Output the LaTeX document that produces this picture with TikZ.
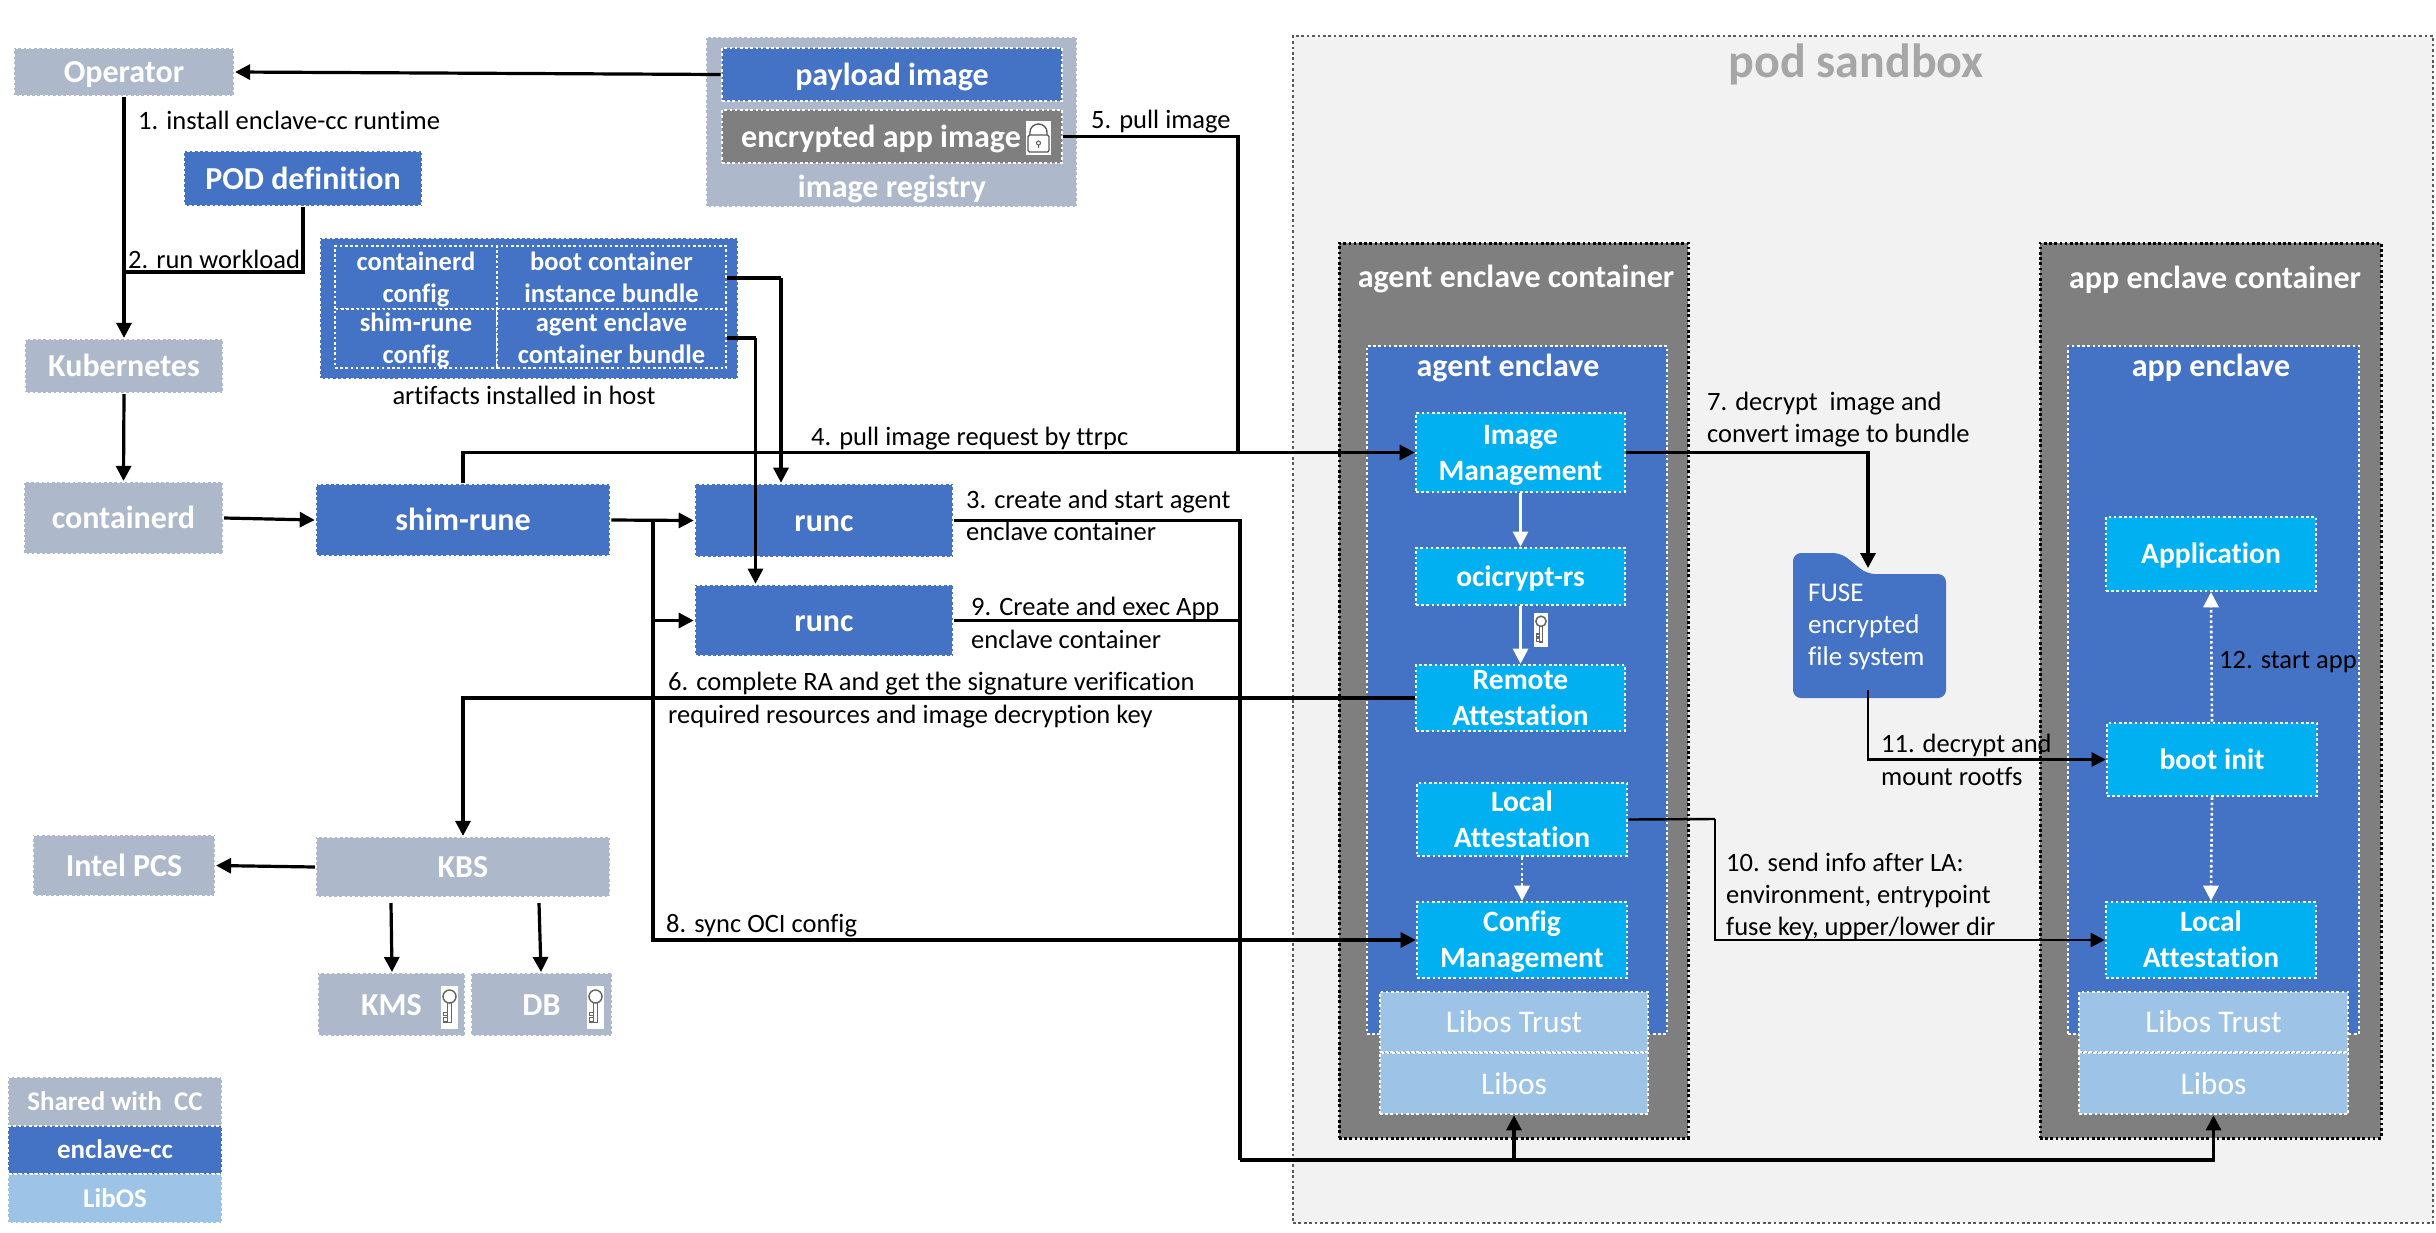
\documentclass[tikz,border=0pt]{standalone}
\usepackage{fontspec}
\setmainfont[RawFeature={-liga;-clig}]{Carlito}
\usetikzlibrary{arrows.meta}
\definecolor{shared}{HTML}{ADB9CA}
\definecolor{encl}{HTML}{4472C4}
\definecolor{grayc}{HTML}{7F7F7F}
\definecolor{cyanc}{HTML}{00B0F0}
\definecolor{libos}{HTML}{9DC3E6}
\definecolor{sandbox}{HTML}{F2F2F2}
\tikzset{
  wdot/.style={draw=white,line width=2.6pt,dash pattern=on 2.6pt off 2.6pt},
  basebox/.style={inner sep=0pt,text=white,align=center,font=\fontsize{32}{40}\selectfont\bfseries},
  sharedbox/.style={basebox,fill=shared,draw=white,line width=2.2pt,dash pattern=on 2.6pt off 2.6pt},
  enclbox/.style={basebox,fill=encl,wdot},
  cyanbox/.style={basebox,fill=cyanc,wdot,font=\fontsize{29.5}{36}\selectfont\bfseries},
  libosbox/.style={basebox,fill=libos,wdot,font=\fontsize{31.5}{40}\selectfont},
  graybox/.style={basebox,fill=grayc,wdot},
  conbox/.style={basebox,fill=grayc,draw=black,line width=3pt,dash pattern=on 2.6pt off 2.6pt},
  titletext/.style={inner sep=0pt,text=white,yshift=-2pt,font=\fontsize{32}{40}\selectfont\bfseries},
  conn/.style={draw=black,line width=3.2pt,-{Triangle[length=15pt,width=15pt]}},
  plain/.style={draw=black,line width=3.2pt},
  thinconn/.style={draw=black,line width=2.4pt,-{Triangle[length=14pt,width=14pt]}},
  thinplain/.style={draw=black,line width=2.4pt},
  whconn/.style={draw=white,line width=2.6pt,-{Triangle[length=15pt,width=15pt]}},
  whdot/.style={draw=white,line width=2.6pt,dash pattern=on 2.6pt off 2.6pt},
  lab/.style={anchor=west,inner sep=0pt,text=black,text height=18pt,text depth=2pt,font=\fontsize{26.5}{26}\selectfont},
}
% box from corner coordinates: name, x0, y0, x1, y1, style, text (the text sits in its own node so the box keeps its size)
\newcommand\bx[7]{%
  \node[#6,minimum width={(#4-#2)*1pt},minimum height={(#5-#3)*1pt}] (#1) at ({(#2+#4)/2},{(#3+#5)/2}) {};
  \node[#6,draw=none,fill=none,yshift=-2.5pt] (#1-text) at (#1.center) {\strut #7\strut};}
% key pictogram: centre x, centre y, white tile half width, half height
\newcommand\keyicon[4]{%
  \fill[white] (#1-#3,#2-#4) rectangle (#1+#3,#2+#4);
  \begin{scope}[shift={(#1,#2)},yscale=#4/21.5,xscale=#4/21.5]
    \draw[gray!80!black,line width=1.5pt] (0,-11) circle (6.5);
    \draw[gray!80!black,line width=1.5pt] (-1.8,-4.5) -- (-1.8,15) -- (1.8,15) -- (1.8,-4.5);
    \draw[gray!80!black,line width=1.5pt] (-1.8,5) -- (-6,5) -- (-6,8) -- (-2,8) (-1.8,10) -- (-6,10) -- (-6,14.5) -- (-1.8,14.5);
  \end{scope}}
\begin{document}
\begin{tikzpicture}[x=1pt,y=-1pt]
\useasboundingbox (0,0) rectangle (2436,1232);
% pod sandbox
\bx{sandboxbox}{1293}{36}{2433}{1223}{inner sep=0pt,fill=sandbox,draw=black!65,line width=2.2pt,dash pattern=on 2.7pt off 2.7pt}{}
\node[inner sep=0pt,text=black!35,font=\fontsize{48}{48}\selectfont\bfseries] (podtitle) at (1856,64) {pod sandbox};
% left column
\bx{operator}{14}{48}{234}{96}{sharedbox}{Operator}
\bx{registry}{706}{37}{1077}{207}{sharedbox}{}
\bx{payload}{722}{48}{1062}{101}{enclbox}{payload image}
\bx{encimg}{722}{110}{1062}{163}{graybox}{}
\node[titletext] (enctext) at (881,137) {encrypted app image};
\node[titletext] (regtext) at (892,187) {image registry};
\fill[white] (1026,121) rectangle (1051,155);
\draw[black!65,line width=1.4pt] (1030,135) -- (1030,132) arc[start angle=180,end angle=360,x radius=8.5,y radius=8] -- (1047,135);
\draw[black!65,line width=1.4pt,rounded corners=1.5pt] (1028,135) rectangle (1049,152);
\draw[black!65,line width=1pt] (1038.5,143) circle (2) (1038.5,145) -- (1038.5,148);
\bx{pod}{184}{151}{422}{206}{enclbox}{POD definition}
\bx{artifacts}{320}{238}{738}{379}{enclbox}{}
\tikzset{artcell/.style={enclbox,line width=2.2pt,font=\fontsize{26.5}{32}\selectfont\bfseries}}
\bx{artA}{335}{246}{497}{309}{artcell}{containerd\\config}
\bx{artB}{497}{246}{726}{309}{artcell}{boot container\\instance bundle}
\bx{artC}{335}{309}{497}{368}{artcell}{shim-rune\\config}
\bx{artD}{497}{309}{726}{368}{artcell}{agent enclave\\container bundle}
\node[lab,anchor=center] (artlabel) at (524,396) {artifacts installed in host};
\bx{k8s}{25}{339}{223}{393}{sharedbox}{Kubernetes}
\bx{containerd}{24}{482}{223}{554}{sharedbox}{containerd}
\bx{shim}{316}{484}{610}{556}{enclbox}{shim-rune}
\bx{runcA}{695}{484}{953}{557}{enclbox}{runc}
\bx{runcB}{695}{585}{953}{656}{enclbox}{runc}
\bx{kbs}{316}{837}{610}{897}{sharedbox}{KBS}
\bx{pcs}{33}{835}{215}{896}{sharedbox}{Intel PCS}
\bx{kms}{318}{973}{465}{1036}{sharedbox}{KMS}
\bx{db}{471}{973}{612}{1036}{sharedbox}{DB}
\keyicon{449.5}{1007.5}{8.5}{21.5}
\keyicon{595.5}{1007.5}{8.5}{21.5}
\tikzset{legendfont/.style={font=\fontsize{27}{32}\selectfont\bfseries}}
\bx{legA}{8}{1077}{222}{1126}{sharedbox,legendfont}{Shared with\ \ CC}
\bx{legB}{8}{1126}{222}{1174}{enclbox,legendfont}{enclave-cc}
\bx{legC}{8}{1174}{222}{1223}{libosbox,legendfont}{LibOS}
% agent container
\bx{agentcon}{1339}{243}{1688}{1138}{conbox}{}
\node[titletext] (agentcontitle) at (1516,277) {agent enclave container};
\bx{agentencl}{1367}{346}{1667}{1034}{enclbox}{}
\node[titletext] (agentencltitle) at (1508,366) {agent enclave};
\bx{imgm}{1416}{413}{1625}{492}{cyanbox}{Image\\Management}
\bx{oci}{1416}{548}{1625}{605}{cyanbox}{ocicrypt-rs}
\bx{remote}{1416}{665}{1625}{731}{cyanbox}{Remote\\Attestation}
\bx{localA}{1417}{783}{1627}{856}{cyanbox}{Local\\Attestation}
\bx{config}{1417}{902}{1627}{978}{cyanbox}{Config\\Management}
\bx{trustA}{1380}{992}{1648}{1052}{libosbox}{Libos Trust}
\bx{libosA}{1380}{1053}{1648}{1114}{libosbox}{Libos}
\keyicon{1541}{630}{7}{17}
% app container
\bx{appcon}{2040}{243}{2381}{1138}{conbox}{}
\node[titletext] (appcontitle) at (2215,278) {app enclave container};
\bx{appencl}{2068}{346}{2359}{1034}{enclbox}{}
\node[titletext] (appencltitle) at (2211,366) {app enclave};
\bx{application}{2106}{517}{2316}{591}{cyanbox}{Application}
\bx{bootinit}{2107}{723}{2317}{796}{cyanbox}{boot init}
\bx{localB}{2106}{902}{2316}{978}{cyanbox}{Local\\Attestation}
\bx{trustB}{2079}{992}{2348}{1052}{libosbox}{Libos Trust}
\bx{libosB}{2079}{1053}{2348}{1114}{libosbox}{Libos}
% FUSE folder
\path[fill=encl,rounded corners=8pt] (1793,698) -- (1793,553) -- (1841,553) -- (1867,574) -- (1946,574) -- (1946,698) -- cycle;
\node[anchor=west,inner sep=0pt,text=white,align=left,font=\fontsize{27}{32}\selectfont] (fuse) at (1808,627) {FUSE\\encrypted\\file system};
% coordinates
\coordinate (jpod) at (124,272);
\coordinate (j5) at (1238,452);
\coordinate (jb1) at (781,278);
\coordinate (jb2) at (755.5,338);
\coordinate (jr) at (653,520);
\coordinate (jc) at (1240,1160);
\coordinate (kbsA) at (391,903);
\coordinate (kbsB) at (539,903);
\coordinate (kmsTop) at (392,972);
\coordinate (dbTop) at (541,972);
\coordinate (ftop) at (1868,568);
\coordinate (fbot) at (1868,690);
\coordinate (jla) at (1715,819);
% connectors
\draw[conn] (payload.west) -- (operator.east);
\draw[conn] (operator.south) -- (k8s.north);
\draw[plain] (pod.south) |- (jpod);
\draw[conn] (k8s.south) -- (containerd.north);
\draw[conn] (containerd.east) -- (shim.west);
\draw[conn] (shim.east) -- (runcA.west);
\draw[plain] (encimg.east) -| (j5);
\draw[conn] (shim.north) |- (imgm.west);
\draw[plain] (artB.east |- jb1) -- (jb1);
\draw[conn] (jb1) -- (jb1 |- runcA.north);
\draw[plain] (artD.east |- jb2) -- (jb2);
\draw[conn] (jb2) -- (jb2 |- runcB.north);
\draw[conn] (jr) |- (runcB.west);
\draw[conn] (jr) |- (config.west);
\draw[plain] (runcA.east) -| (jc);
\draw[plain] (runcB.east) -| (jc);
\draw[conn] (jc) -| (libosA.south);
\draw[conn] (jc) -| (libosB.south);
\draw[conn] (remote.west) -| (kbs.north);
\draw[conn] (kbs.west) -- (pcs.east);
\draw[conn] (kbsA) -- (kmsTop);
\draw[conn] (kbsB) -- (dbTop);
\draw[conn] (imgm.east) -| (ftop);
\draw[thinconn] (fbot) |- (bootinit.west);
\draw[thinplain] (localA.east) -- (jla);
\draw[thinconn] (jla) |- (localB.west);
\draw[whconn] (imgm.south) -- (oci.north);
\draw[whconn] (oci.south) -- (remote.north);
\draw[whdot] (localA.south) -- ([yshift=14pt]config.north);
\fill[white] (config.north) -- ++(-8,-15) -- ++(16,0) -- cycle;
\draw[whdot] (bootinit.north) -- ([yshift=-14pt]application.south);
\fill[white] (application.south) -- ++(-8,15) -- ++(16,0) -- cycle;
\draw[whdot] (bootinit.south) -- ([yshift=14pt]localB.north);
\fill[white] (localB.north) -- ++(-8,-15) -- ++(16,0) -- cycle;
% labels
\node[lab] (l1) at (138,121) {1. install enclave-cc runtime};
\node[lab] (l2) at (128,260) {2. run workload};
\node[lab] (l4) at (811,437) {4. pull image request by ttrpc};
\node[lab] (l5) at (1091,120) {5. pull image};
\node[lab] (l3a) at (966,500) {3. create and start agent};
\node[lab] (l3b) at (966,532) {enclave container};
\node[lab] (l9a) at (971,607) {9. Create and exec App};
\node[lab] (l9b) at (971,640) {enclave container};
\node[lab] (l6a) at (668,682) {6. complete RA and get the signature verification};
\node[lab] (l6b) at (668,715) {required resources and image decryption key};
\node[lab] (l8) at (666,924) {8. sync OCI config};
\node[lab] (l7a) at (1707,402) {7. decrypt\ \ image and};
\node[lab] (l7b) at (1707,434) {convert image to bundle};
\node[lab] (l11a) at (1881,744) {11. decrypt and};
\node[lab] (l11b) at (1881,777) {mount rootfs};
\node[lab] (l10a) at (1726,863) {10. send info after LA:};
\node[lab] (l10b) at (1726,895) {environment, entrypoint};
\node[lab] (l10c) at (1726,927) {fuse key, upper/lower dir};
\node[lab] (l12) at (2219,660) {12. start app};
\end{tikzpicture}
\end{document}
